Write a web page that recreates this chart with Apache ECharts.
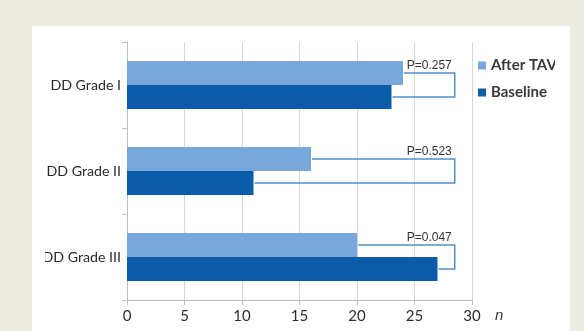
<!DOCTYPE html>
<html>
<head>
<meta charset="utf-8">
<script src="https://cdn.jsdelivr.net/npm/echarts@6/dist/echarts.min.js"></script>
<style>
  html, body { margin: 0; padding: 0; background: #eeebe2; width: 584px; height: 331px; overflow: hidden; }
  #panel { position: absolute; left: 32px; top: 26px; width: 538px; height: 310px; background: #ffffff; }
  #chart { position: absolute; left: 45px; top: 26px; width: 510px; height: 305px; }
</style>
</head>
<body>
<div id="panel"></div>
<div id="chart"></div>
<script>
const categories = ['DD Grade I', 'DD Grade II', 'DD Grade III'];
const afterTavi = [24, 16, 20];
const baseline = [23, 11, 27];
const pLabels = ['P=0.257', 'P=0.523', 'P=0.047'];
const bracketX = 28.5;
const xTicks = [0, 5, 10, 15, 20, 25, 30];

const chart = echarts.init(document.getElementById('chart'), null, { renderer: 'canvas' });

const bracketData = categories.map((c, i) => [i, afterTavi[i], baseline[i], bracketX]);

const option = {
  animation: false,
  backgroundColor: 'transparent',
  grid: { left: 82, right: 83, top: 16, bottom: 31, containLabel: false, outerBoundsMode: 'none' },
  legend: {
    orient: 'vertical',
    left: 428,
    top: 27,
    itemWidth: 8,
    itemHeight: 8,
    itemGap: 12,
    icon: 'rect',
    data: ['After TAVI', 'Baseline'],
    textStyle: { fontFamily: 'Lato', fontSize: 15, fontWeight: 'bold', color: '#3a3a3a', padding: [0, 0, 0, 0] }
  },
  xAxis: {
    type: 'value',
    min: xTicks[0],
    max: xTicks[xTicks.length - 1],
    interval: 5,
    name: 'n',
    nameLocation: 'end',
    nameGap: 23,
    nameTextStyle: { fontFamily: 'Liberation Sans', fontStyle: 'italic', fontSize: 15, color: '#333', verticalAlign: 'top', padding: [8, 0, 0, 0] },
    axisLine: { show: true, lineStyle: { color: '#bdbdbd', width: 1 } },
    axisTick: { show: true, length: 5, lineStyle: { color: '#bdbdbd' } },
    axisLabel: { fontFamily: 'Lato', fontSize: 15, color: '#2e2e2e', margin: 9 },
    splitLine: { show: true, lineStyle: { color: '#d6d6d6', width: 1 } }
  },
  yAxis: {
    type: 'category',
    inverse: true,
    data: categories,
    axisLine: { show: true, lineStyle: { color: '#bdbdbd', width: 1 } },
    axisTick: { show: true, length: 5, inside: false, alignWithLabel: false, lineStyle: { color: '#bdbdbd' } },
    axisLabel: { fontFamily: 'Lato', fontSize: 14.2, color: '#2a2a2a', margin: 6 },
    splitLine: { show: false }
  },
  series: [
    {
      name: 'After TAVI',
      type: 'bar',
      data: afterTavi,
      barCategoryGap: '44%',
      barGap: '0%',
      itemStyle: { color: '#78a7dc' }
    },
    {
      name: 'Baseline',
      type: 'bar',
      data: baseline,
      barCategoryGap: '44%',
      barGap: '0%',
      itemStyle: { color: '#0b5ba9' }
    },
    {
      name: 'brackets',
      type: 'custom',
      data: bracketData,
      encode: { x: [1, 2, 3], y: 0 },
      z: 5,
      renderItem: function (params, api) {
        const idx = api.value(0);
        const band = api.size([0, 1])[1];
        const center = api.coord([0, idx])[1];
        const barW = band * 0.28;
        const yTop = center - barW / 2;
        const yBot = center + barW / 2;
        const xA = api.coord([api.value(1), idx])[0];
        const xB = api.coord([api.value(2), idx])[0];
        const xR = api.coord([api.value(3), idx])[0];
        return {
          type: 'group',
          children: [
            {
              type: 'polyline',
              shape: { points: [[xA + 1, yTop], [xR, yTop], [xR, yBot], [xB + 1, yBot]] },
              style: { stroke: '#4d93cb', lineWidth: 1.5, fill: null }
            },
            {
              type: 'text',
              style: {
                text: pLabels[params.dataIndex],
                x: xR - 3,
                y: yTop - 1,
                align: 'right',
                verticalAlign: 'bottom',
                fontFamily: 'Liberation Sans',
                fontSize: 12,
                fill: '#333'
              }
            }
          ]
        };
      }
    }
  ]
};
chart.setOption(option);
</script>
</body>
</html>
